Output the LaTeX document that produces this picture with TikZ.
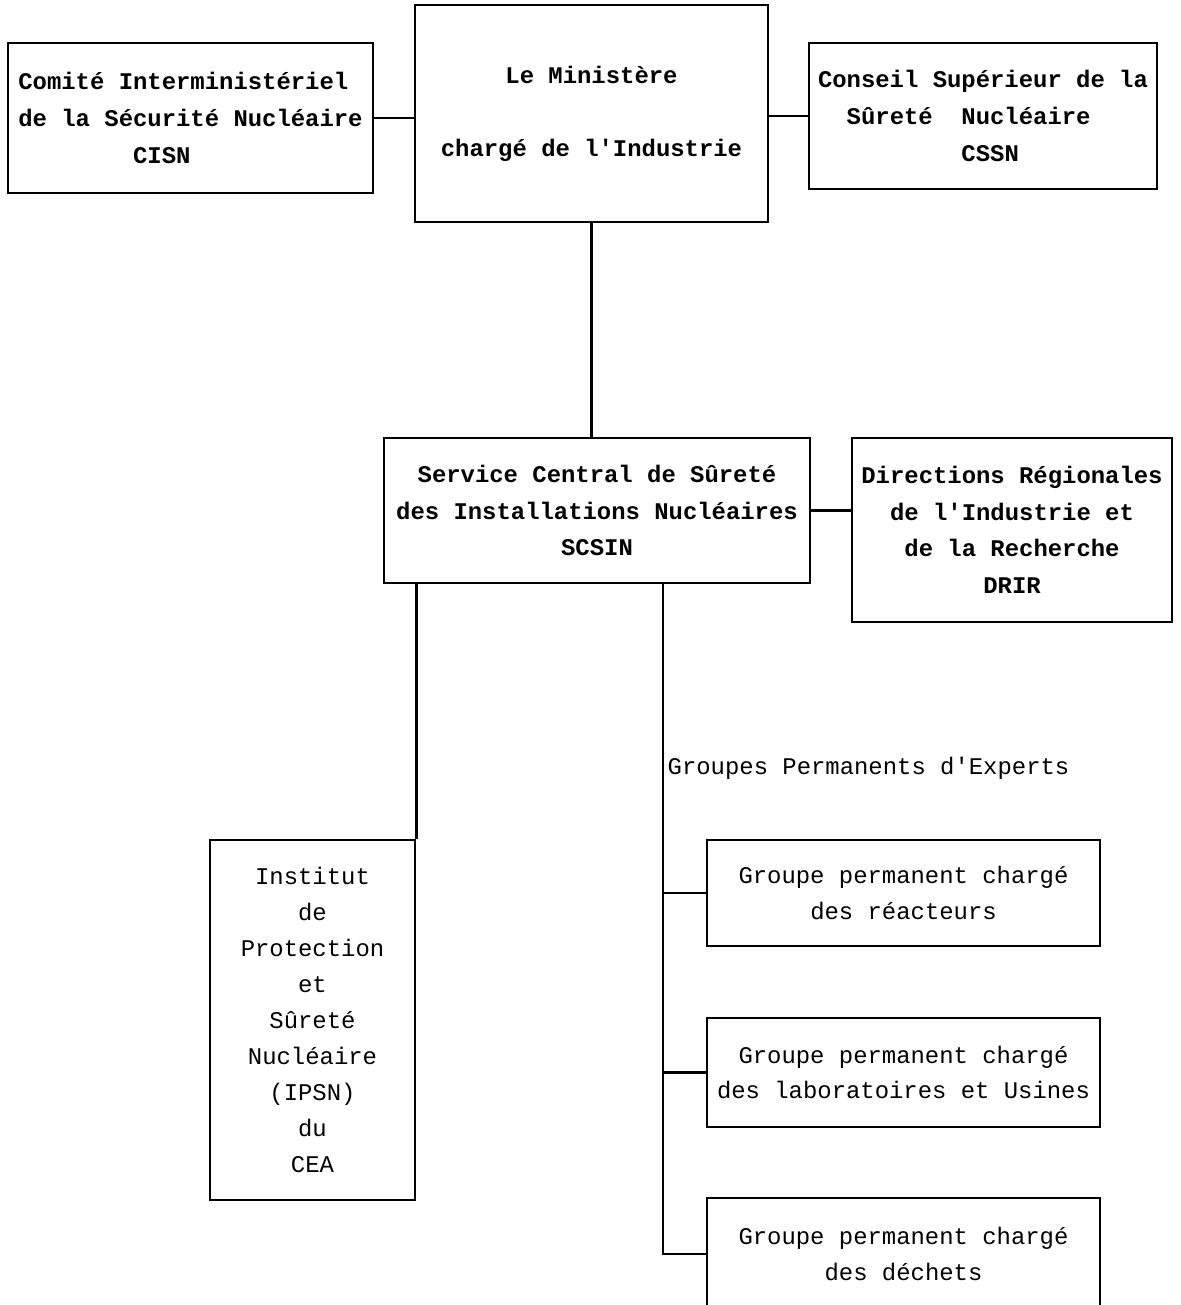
\documentclass[tikz,border=0pt]{standalone}
\usepackage{fontspec}
\setmonofont{Liberation Mono}
\usepackage{tikz}
\usetikzlibrary{calc}

\begin{document}
\begin{tikzpicture}[x=0.025cm, y=-0.025cm,
      box/.style={draw, rectangle, line width=2pt, inner sep=2pt,
                  align=center, font=\ttfamily\bfseries\fontsize{17}{26}\selectfont},
      gbox/.style={box, font=\ttfamily\fontsize{17}{25.5}\selectfont},
      con/.style={line width=2pt},
      lbl/.style={font=\ttfamily\fontsize{17}{26}\selectfont, inner sep=1pt}
    ]
    \clip (0,0) rectangle (1180,1305);

    %--- top row ---
    \node[box, align=left, minimum width=9.125cm, minimum height=3.75cm]
          (cisn) at (190.5,118) {Comité Interministériel\\de la Sécurité Nucléaire\\\hphantom{XXXXXXXX}CISN};
    \node[box, minimum width=8.825cm, minimum height=5.425cm]
          (min) at (591.5,113.5) {Le Ministère\\~\\chargé de l'Industrie};
    \node[box, align=left, minimum width=8.7cm, minimum height=3.65cm]
          (cssn) at (983,116) {Conseil Supérieur de la\\\hphantom{XX}Sûreté\ \ Nucléaire\\\hphantom{XXXXXXXXXX}CSSN};
    \draw[con] (cisn.east) -- (cisn.east -| min.west);
    \draw[con] (cssn.west) -- (cssn.west -| min.east);

    %--- SCSIN and DRIR ---
    \node[box, minimum width=10.65cm, minimum height=3.625cm]
          (scsin) at (597,510.5) {Service Central de Sûreté\\des Installations Nucléaires\\SCSIN};
    \node[box, minimum width=8cm, minimum height=4.6cm]
          (drir) at (1012,530) {Directions Régionales\\de l'Industrie et\\de la Recherche\\DRIR};
    \draw[con] (min.south) -- (min.south |- scsin.north);
    \draw[con] (scsin.east) -- (scsin.east -| drir.west);

    %--- IPSN ---
    \node[gbox, font=\ttfamily\fontsize{17}{25.6}\selectfont,
          minimum width=5.125cm, minimum height=9cm]
          (ipsn) at (312.5,1020) {Institut\\de\\Protection\\et\\Sûreté\\Nucléaire\\(IPSN)\\du\\CEA};
    \draw[con] (ipsn.north east) -- (ipsn.north east |- scsin.south);

    %--- Groupes permanents ---
    \coordinate (trunk) at (663,0);
    \node[lbl, anchor=west] (gpe) at (666,768) {Groupes Permanents d'Experts};

    \foreach \i/\y/\h/\txt in {1/893/2.65/des réacteurs,
                               2/1072.5/2.725/des laboratoires et Usines,
                               3/1254/2.8/des déchets} {
      \node[gbox, minimum width=9.825cm, minimum height=\h cm]
            (g\i) at (903.5,\y) {Groupe permanent chargé\\\txt};
    }
    \draw[con] (trunk |- scsin.south) -- (trunk |- g3.west) -- (g3.west);
    \draw[con] (trunk |- g1.west) -- (g1.west);
    \draw[con] (trunk |- g2.west) -- (g2.west);
  \end{tikzpicture}
\end{document}
